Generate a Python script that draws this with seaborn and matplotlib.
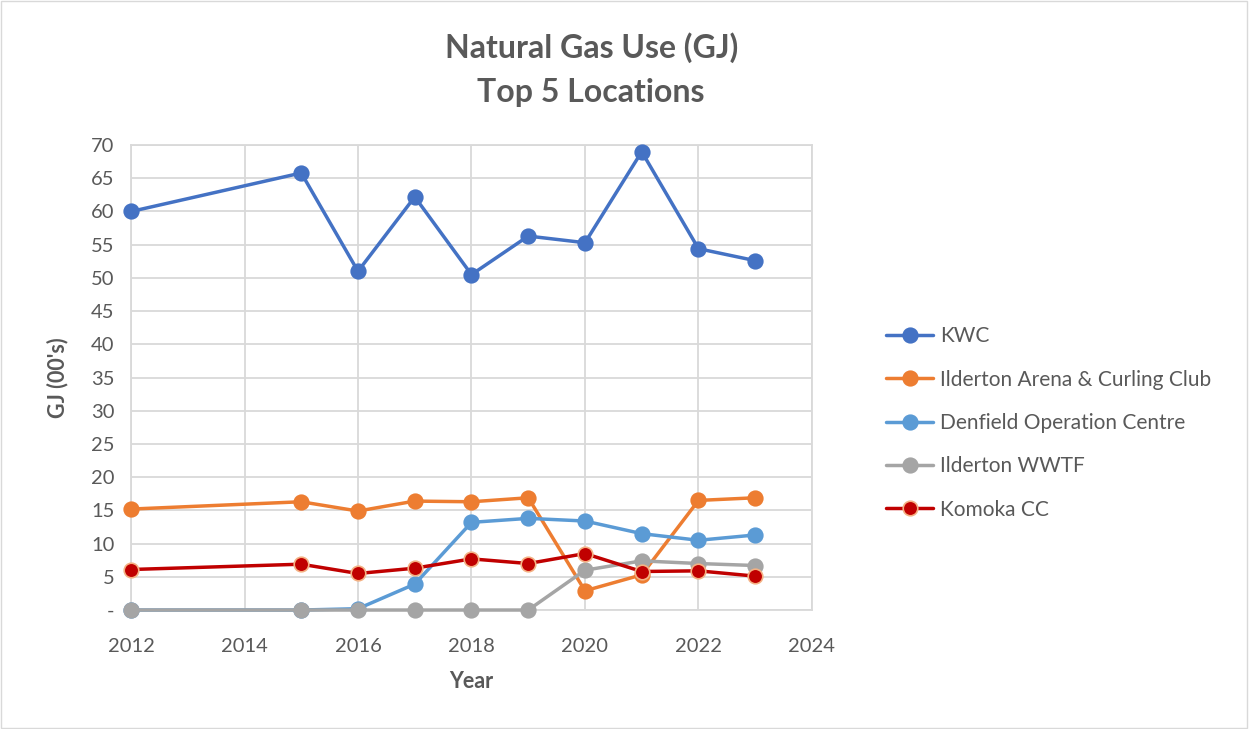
"""Natural gas use line chart, top 5 locations."""
import matplotlib.pyplot as plt
import pandas as pd
import seaborn as sns
from matplotlib.patches import Rectangle

years = [2012, 2015, 2016, 2017, 2018, 2019, 2020, 2021, 2022, 2023]
kwc = [60.0, 65.8, 51.0, 62.2, 50.5, 56.3, 55.3, 69.0, 54.4, 52.6]
ilderton_arena = [15.2, 16.3, 14.9, 16.4, 16.3, 16.9, 2.9, 5.3, 16.5, 16.9]
denfield = [0.0, 0.0, 0.2, 3.9, 13.2, 13.8, 13.4, 11.5, 10.5, 11.3]
ilderton_wwtf = [0.0, 0.0, 0.0, 0.0, 0.0, 0.0, 6.0, 7.4, 7.0, 6.7]
komoka = [6.1, 6.9, 5.5, 6.3, 7.7, 7.0, 8.5, 5.8, 5.9, 5.1]

series = {
    'KWC': kwc,
    'Ilderton Arena & Curling Club': ilderton_arena,
    'Denfield Operation Centre': denfield,
    'Ilderton WWTF': ilderton_wwtf,
    'Komoka CC': komoka,
}
colours = ['#4472c4', '#ed7d31', '#5b9bd5', '#a5a5a5', '#c00000']
edges = ['#4472c4', '#ed7d31', '#5b9bd5', '#a5a5a5', '#f4b183']

sns.set_style('white')
plt.rcParams['font.family'] = ['Lato', 'DejaVu Sans']
text_col = '#595959'

fig = plt.figure(figsize=(12.49, 7.29), dpi=100)
ax = fig.add_axes([0.1049, 0.1632, 0.5452, 0.6378])

for i, ((name, vals), col, edge) in enumerate(zip(series.items(), colours, edges)):
    df = pd.DataFrame({'Year': years, 'GJ': vals})
    sns.lineplot(
        data=df, x='Year', y='GJ', ax=ax, color=col, linewidth=2.5,
        marker='o', markersize=10.5, markeredgecolor=edge,
        markeredgewidth=1.2, label=name, clip_on=False, zorder=3 + i,
    )

ax.set_xlim(2012, 2024)
ax.set_ylim(0, 70)
ax.set_xticks(range(2012, 2025, 2))
ax.set_yticks(range(0, 71, 5))
ax.set_yticklabels(['-' if v == 0 else str(v) for v in range(0, 71, 5)])
ax.tick_params(axis='both', labelsize=14.5, colors=text_col, length=0)
ax.tick_params(axis='x', pad=20)
ax.tick_params(axis='y', pad=12)
ax.grid(True, color='#d9d9d9', linewidth=1.3)
for sp in ax.spines.values():
    sp.set_color('#d9d9d9')
    sp.set_linewidth(1.3)
ax.set_axisbelow(True)

ax.set_xlabel('Year', fontsize=15.5, fontweight='bold', color=text_col, labelpad=12)
ax.set_ylabel("GJ (00's)", fontsize=15.5, fontweight='bold', color=text_col, labelpad=16)

fig.text(0.4733, 0.935, 'Natural Gas Use (GJ)', ha='center', va='center',
         fontsize=23, fontweight='bold', color=text_col)
fig.text(0.4733, 0.873, 'Top 5 Locations', ha='center', va='center',
         fontsize=23, fontweight='bold', color=text_col)

handles, labels = ax.get_legend_handles_labels()
ax.get_legend().remove()
fig.legend(handles, labels, loc='upper left', bbox_to_anchor=(0.694, 0.578),
           frameon=False, fontsize=15, labelcolor=text_col,
           labelspacing=1.12, handlelength=2.3, handletextpad=0.3)

fig.patches.append(Rectangle((0.001, 0.001), 0.997, 0.997, transform=fig.transFigure,
                             fill=False, edgecolor='#d9d9d9', linewidth=1))

fig.savefig('out.png', dpi=100)
